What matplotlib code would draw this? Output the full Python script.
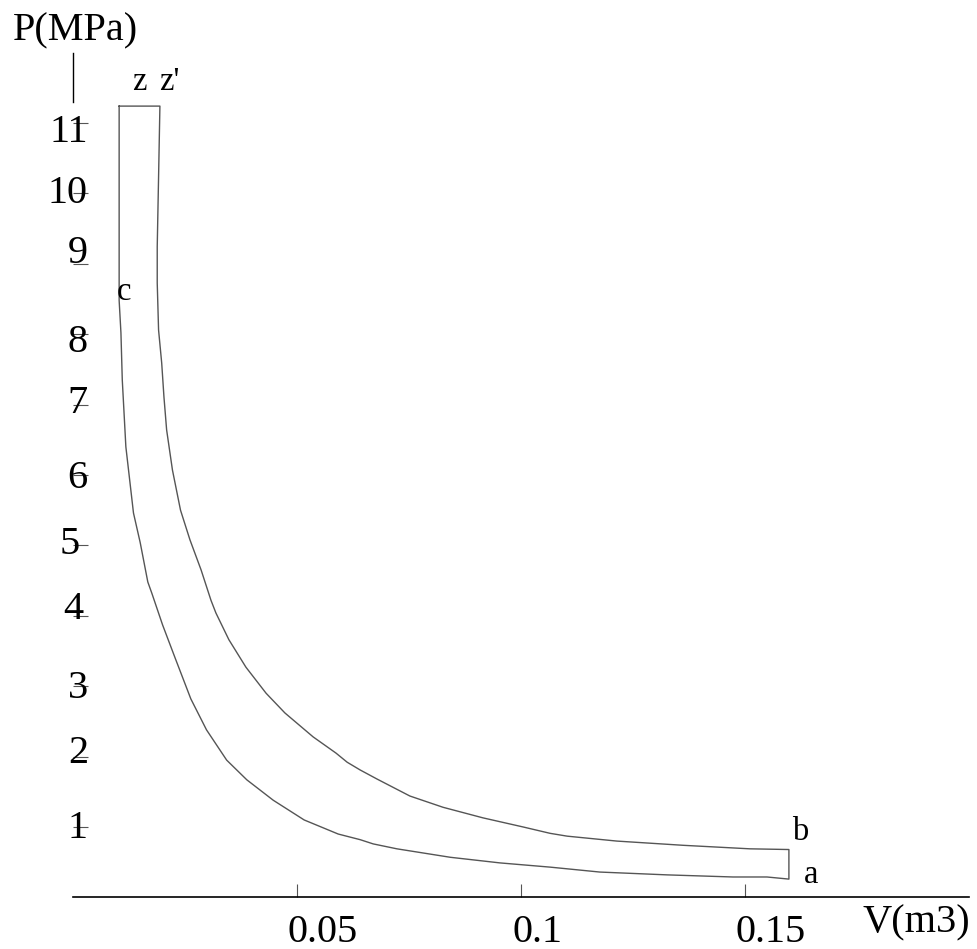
import matplotlib
matplotlib.use('Agg')
import matplotlib.pyplot as plt
from matplotlib.transforms import offset_copy

# state points of the cycle (V in m3, P in MPa)
V_z = 0.0103
P_z = 11.24
P_c = 8.48
V_b = 0.1598
P_b = 0.68
P_a = 0.26

# expansion z' -> b
V_exp = [0.0194, 0.0191, 0.0188, 0.0188, 0.0191, 0.0198, 0.0203, 0.0209, 0.0222,
         0.0240, 0.0261, 0.0286, 0.0308, 0.0319, 0.0348, 0.0386, 0.0431, 0.0473,
         0.0536, 0.0587, 0.0612, 0.0641, 0.0679, 0.0752, 0.0826, 0.0915, 0.1005,
         0.1065, 0.1103, 0.1214, 0.1362, 0.1511, 0.1598]
P_exp = [11.24, 10.23, 9.24, 8.73, 8.06, 7.59, 7.11, 6.64, 6.07,
         5.50, 5.08, 4.65, 4.22, 4.04, 3.66, 3.27, 2.90, 2.62,
         2.28, 2.05, 1.92, 1.81, 1.68, 1.44, 1.28, 1.13, 1.00,
         0.91, 0.87, 0.80, 0.74, 0.69, 0.68]

# compression a -> c
V_comp = [0.1598, 0.1549, 0.1473, 0.1326, 0.1176, 0.1065, 0.0953, 0.0842, 0.0723,
          0.0670, 0.0641, 0.0592, 0.0516, 0.0447, 0.0388, 0.0343, 0.0298, 0.0263,
          0.0228, 0.0200, 0.0176, 0.0167, 0.0150, 0.0135, 0.0118, 0.0110, 0.0107,
          0.0103]
P_comp = [0.26, 0.29, 0.29, 0.32, 0.36, 0.43, 0.49, 0.57, 0.69,
          0.76, 0.82, 0.90, 1.10, 1.38, 1.67, 1.95, 2.38, 2.82,
          3.40, 3.87, 4.32, 4.48, 5.04, 5.46, 6.40, 7.35, 8.02,
          8.48]

xticks = [0.05, 0.1, 0.15]
xticklabels = ['0.05', '0.1', '0.15']
yticks = [1, 2, 3, 4, 5, 6, 7, 8, 9, 10, 11]
yticklabels = ['1', '2', '3', '4', '5', '6', '7', '8', '9', '10', '11']

# the original labels are a bit jittered (pixels): right edge shift, baseline drop
ylab_dx = [15, 15, 15, 10, 7, 15, 15, 15, 15, 15, 15]
ylab_drop = [11, 6, 12, 3, 9, 13, 8, 18, -1, 10, 19]

FONT = 'Liberation Serif'
BIG = 29
SMALL = 23.5

fig = plt.figure(figsize=(9.78, 9.49), dpi=100)
ax = fig.add_axes([73/978., 51.6/949., 896/978., 844.8/949.])
ax.set_xlim(0, 0.2)
ax.set_ylim(0, 12)

for s in ['top', 'right', 'left']:
    ax.spines[s].set_visible(False)
ax.spines['bottom'].set_color('k')
ax.spines['bottom'].set_linewidth(1.2)

# closed cycle z -> z' -> b -> a -> c -> z
V_cyc = [V_z] + V_exp + V_comp + [V_z]
P_cyc = [P_z] + P_exp + P_comp + [P_z]
ax.plot(V_cyc, P_cyc, color='#555555', linewidth=1.0)

# stub of the P axis above the ticks
ax.plot([0, 0], [11.3, 12.0], color='k', linewidth=1.0, clip_on=False)

ax.set_xticks(xticks)
ax.set_xticklabels([])
ax.set_yticks(yticks)
ax.set_yticklabels([])
ax.tick_params(axis='x', direction='in', length=9.4, width=0.8, color='#555555')
ax.tick_params(axis='y', direction='in', length=10.8, width=0.8, color='#555555')

for v, lab in zip(xticks, xticklabels):
    tr = offset_copy(ax.transData, fig=fig, x=-9, y=-45, units='dots')
    ax.text(v, 0, lab, transform=tr, ha='left', va='baseline',
            family=FONT, fontsize=BIG, clip_on=False)

for p, lab, dx, dy in zip(yticks, yticklabels, ylab_dx, ylab_drop):
    tr = offset_copy(ax.transData, fig=fig, x=dx, y=-dy, units='dots')
    ax.text(0, p, lab, transform=tr, ha='right', va='baseline',
            family=FONT, fontsize=BIG, clip_on=False)

# axis titles
fig.text(13/978., 1 - 40/949., 'P(MPa)', ha='left', va='baseline',
         family=FONT, fontsize=BIG)
fig.text(863/978., 1 - 932/949., 'V(m3)', ha='left', va='baseline',
         family=FONT, fontsize=BIG)

# state point labels
def mark(v, p, s, dx, dy):
    tr = offset_copy(ax.transData, fig=fig, x=dx, y=dy, units='dots')
    ax.text(v, p, s, transform=tr, ha='left', va='baseline',
            family=FONT, fontsize=SMALL, clip_on=False)

mark(V_z, P_z, 'z', 13, 16)
mark(V_exp[0], P_z, "z'", -1, 16)
mark(V_z, P_c, 'c', -2, 0)
mark(V_b, P_b, 'b', 3, 10)
mark(V_b, P_a, 'a', 15, -4)

plt.savefig('out.png', dpi=100)
plt.close()
